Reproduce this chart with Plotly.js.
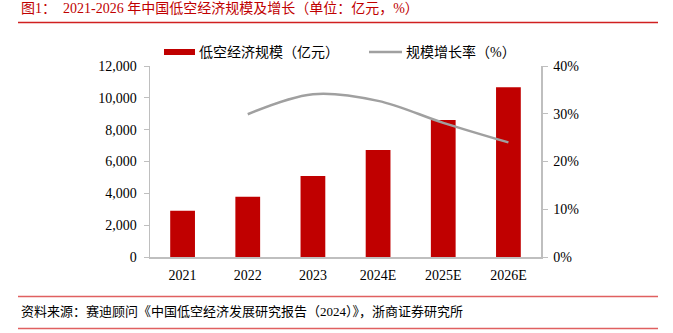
<!DOCTYPE html>
<html><head><meta charset="utf-8">
<script src="https://cdn.plot.ly/plotly-3.0.1.min.js"></script>
<style>html,body{margin:0;padding:0;background:#fff;}#chart{width:673px;height:333px;}</style>
</head><body><div id="chart"></div>
<script>
const categories = ["2021", "2022", "2023", "2024E", "2025E", "2026E"];
const scaleValues = [2910, 3790, 5090, 6730, 8610, 10670];
const growthCats = ["2022", "2023", "2024E", "2025E", "2026E"];
const growthValues = [0.299, 0.341, 0.327, 0.281, 0.240];
const leftTicks = [0, 2000, 4000, 6000, 8000, 10000, 12000];
const leftTickText = ["0", "2,000", "4,000", "6,000", "8,000", "10,000", "12,000"];
const rightTicks = [0, 0.1, 0.2, 0.3, 0.4];
const rightTickText = ["0%", "10%", "20%", "30%", "40%"];
const seriesNames = ["低空经济规模（亿元）", "规模增长率（%）"];

const FONT = '"Liberation Serif", "Noto Sans CJK SC", serif';
const W = 673, H = 333, L = 150, R = 132, T = 66, B = 76;
const pw = W - L - R, ph = H - T - B;
const px = x => (x - L) / pw;
const py = y => (H - B - y) / ph;

const traces = [
  {type: 'bar', x: categories, y: scaleValues, name: seriesNames[0],
   marker: {color: '#c00000'}, width: 0.38, yaxis: 'y'},
  {type: 'scatter', mode: 'lines', x: growthCats, y: growthValues, name: seriesNames[1],
   line: {color: '#a0a0a0', width: 2.5, shape: 'spline', smoothing: 1}, yaxis: 'y2'}
];
const layout = {
  width: W, height: H,
  margin: {l: L, r: R, t: T, b: B},
  paper_bgcolor: '#fff', plot_bgcolor: '#fff',
  font: {family: FONT, size: 14, color: '#000'},
  showlegend: false,
  xaxis: {type: 'category', showline: true, linecolor: '#bfbfbf', linewidth: 1.5,
          ticks: '', showgrid: false, zeroline: false, tickfont: {size: 14}, ticklabelstandoff: 5},
  yaxis: {range: [0, 12000], tickvals: leftTicks, ticktext: leftTickText, showgrid: false,
          zeroline: false, showline: true, linecolor: '#bfbfbf', linewidth: 1.5,
          ticks: 'outside', ticklen: 5, tickcolor: '#bfbfbf', tickfont: {size: 14}, ticklabelstandoff: 4},
  yaxis2: {range: [0, 0.4], tickvals: rightTicks, ticktext: rightTickText, overlaying: 'y',
           side: 'right', showgrid: false, zeroline: false, showline: true, linecolor: '#bfbfbf',
           linewidth: 1.5, ticks: 'outside', ticklen: 5, tickcolor: '#bfbfbf', tickfont: {size: 14}, ticklabelstandoff: 3},
  shapes: [
    {type: 'line', xref: 'paper', yref: 'paper', x0: px(18), x1: px(658), y0: py(22.5), y1: py(22.5),
     line: {color: '#d02020', width: 1.3}},
    {type: 'line', xref: 'paper', yref: 'paper', x0: px(18), x1: px(658), y0: py(296.5), y1: py(296.5),
     line: {color: '#e06060', width: 1.5}},
    {type: 'line', xref: 'paper', yref: 'paper', x0: px(18), x1: px(658), y0: py(328.5), y1: py(328.5),
     line: {color: '#e06060', width: 1.5}},
    {type: 'rect', xref: 'paper', yref: 'paper', x0: px(164), x1: px(195), y0: py(55), y1: py(49),
     fillcolor: '#c00000', line: {width: 0}},
    {type: 'line', xref: 'paper', yref: 'paper', x0: px(369), x1: px(402), y0: py(52), y1: py(52),
     line: {color: '#a0a0a0', width: 2.5}}
  ],
  annotations: [
    {xref: 'paper', yref: 'paper', x: px(19), y: py(9), xanchor: 'left', yanchor: 'middle',
     showarrow: false, text: '图1：  2021-2026 年中国低空经济规模及增长（单位：亿元，%）',
     font: {size: 14, color: '#c00000', family: FONT}},
    {xref: 'paper', yref: 'paper', x: px(197), y: py(52), xanchor: 'left', yanchor: 'middle',
     showarrow: false, text: seriesNames[0], font: {size: 14, family: FONT}},
    {xref: 'paper', yref: 'paper', x: px(404), y: py(52), xanchor: 'left', yanchor: 'middle',
     showarrow: false, text: seriesNames[1], font: {size: 14, family: FONT}},
    {xref: 'paper', yref: 'paper', x: px(19), y: py(311), xanchor: 'left', yanchor: 'middle',
     showarrow: false, text: '资料来源：赛迪顾问《中国低空经济发展研究报告（2024）》，浙商证券研究所',
     font: {size: 13, color: '#000', family: FONT}}
  ]
};
Plotly.newPlot('chart', traces, layout, {displayModeBar: false, staticPlot: true});
</script></body></html>
